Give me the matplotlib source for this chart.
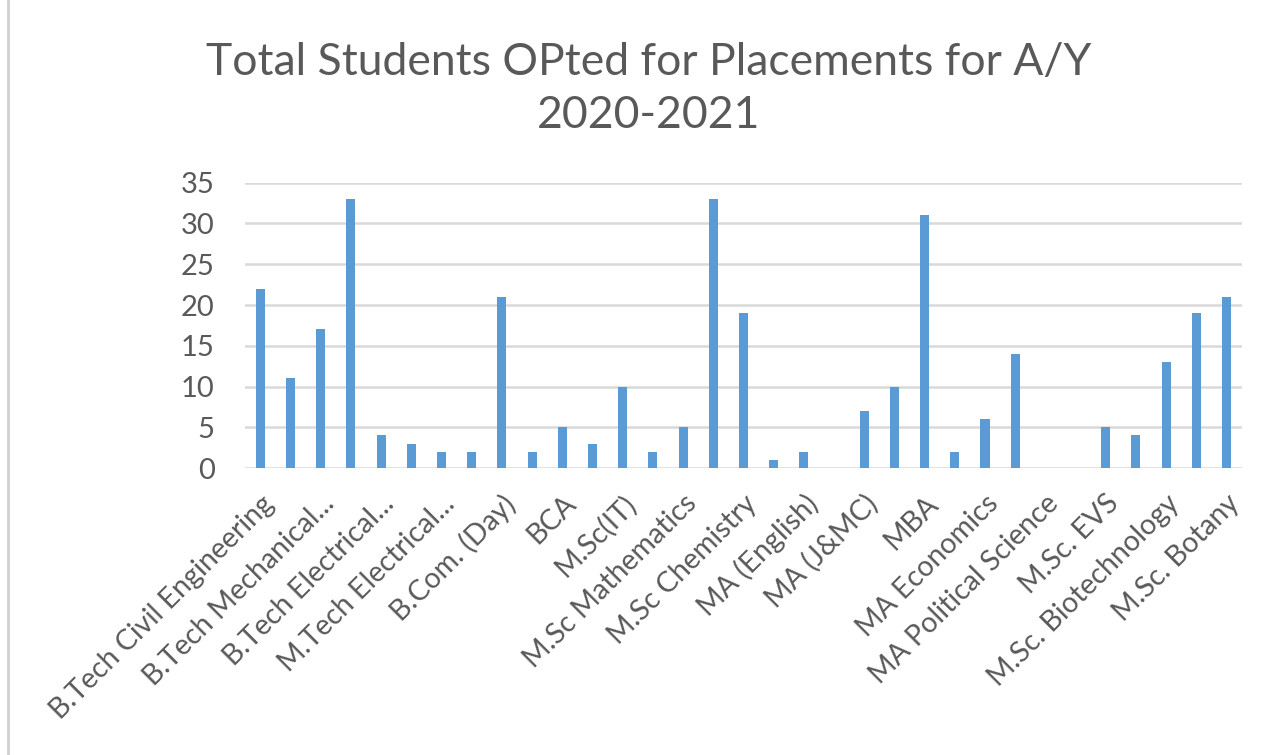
import numpy as np
import matplotlib.pyplot as plt

# valores (33 cursos, solo se ve una etiqueta de cada dos)
values = [22, 11, 17, 33, 4, 3, 2, 2, 21, 2, 5, 3, 10, 2, 5, 33, 19,
          1, 2, 0, 7, 10, 31, 2, 6, 14, 0, 0, 5, 4, 13, 19, 21]
tick_labels = ["B.Tech Civil Engineering", "B.Tech Mechanical...", "B.Tech Electrical...",
               "M.Tech Electrical...", "B.Com. (Day)", "BCA", "M.Sc(IT)", "M.Sc Mathematics",
               "M.Sc Chemistry", "MA (English)", "MA (J&MC)", "MBA", "MA Economics",
               "MA Political Science", "M.Sc. EVS", "M.Sc. Biotechnology", "M.Sc. Botany"]
y_ticks = [0, 5, 10, 15, 20, 25, 30, 35]

plt.rcParams['font.family'] = ['Lato', 'DejaVu Sans']
gray = '#595959'

fig = plt.figure(figsize=(12.84, 7.55), dpi=100)
ax = fig.add_axes([0.191, 0.38, 0.776, 0.378])

x = np.arange(len(values))
ax.bar(x, values, width=0.3, color='#5B9BD5', zorder=3)

ax.set_xlim(-0.5, len(values) - 0.5)
ax.set_ylim(0, 35)
ax.set_yticks(y_ticks)
ax.set_yticklabels([str(v) for v in y_ticks], fontsize=21, color=gray)
ax.set_xticks(x[::2])
ax.set_xticklabels(tick_labels, rotation=45, ha='right', rotation_mode='anchor',
                   fontsize=20.5, color=gray)
ax.tick_params(axis='y', length=0, pad=22)
ax.tick_params(axis='x', length=0, pad=16)
ax.grid(axis='y', color='#D9D9D9', linewidth=1.8, zorder=0)
for s in ax.spines.values():
    s.set_visible(False)

fig.suptitle('Total Students OPted for Placements for A/Y\n2020-2021',
             x=0.505, y=0.945, fontsize=32, color=gray, linespacing=1.38)

# borde gris a la izquierda
fig.add_artist(plt.Line2D([0.0065, 0.0065], [0, 1], color='#D0D0D0', linewidth=2))

fig.savefig('out.png', dpi=100)
